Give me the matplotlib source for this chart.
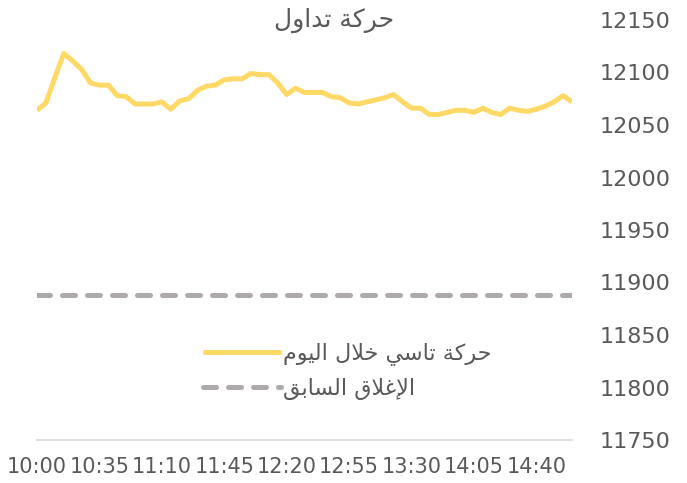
import matplotlib
matplotlib.use('Agg')
import matplotlib.pyplot as plt

# data (5-minute steps, 10:00 .. 15:00)
times = ['10:00', '10:05', '10:10', '10:15', '10:20', '10:25', '10:30', '10:35', '10:40', '10:45',
         '10:50', '10:55', '11:00', '11:05', '11:10', '11:15', '11:20', '11:25', '11:30', '11:35',
         '11:40', '11:45', '11:50', '11:55', '12:00', '12:05', '12:10', '12:15', '12:20', '12:25',
         '12:30', '12:35', '12:40', '12:45', '12:50', '12:55', '13:00', '13:05', '13:10', '13:15',
         '13:20', '13:25', '13:30', '13:35', '13:40', '13:45', '13:50', '13:55', '14:00', '14:05',
         '14:10', '14:15', '14:20', '14:25', '14:30', '14:35', '14:40', '14:45', '14:50', '14:55',
         '15:00']
tasi = [12064, 12071, 12095, 12118, 12111, 12103, 12090, 12088, 12088, 12078,
        12077, 12070, 12070, 12070, 12072, 12065, 12073, 12075, 12083, 12087,
        12088, 12093, 12094, 12094, 12099, 12098, 12098, 12090, 12079, 12085,
        12081, 12081, 12081, 12077, 12076, 12071, 12070, 12072, 12074, 12076,
        12079, 12072, 12066, 12066, 12060, 12060, 12062, 12064, 12064, 12062,
        12066, 12062, 12060, 12066, 12064, 12063, 12065, 12068, 12072, 12078,
        12072]
prev_close = 11888
tick_every = 7
y_ticks = [11750, 11800, 11850, 11900, 11950, 12000, 12050, 12100, 12150]

title = 'حركة تداول'
label_today = 'حركة تاسي خلال اليوم'
label_prev = 'الإغلاق السابق'

# matplotlib does no arabic shaping, so pick presentation forms by hand
FORMS = {
    '\u0627': ('\uFE8D', '\uFE8E', None, None),
    '\u0625': ('\uFE87', '\uFE88', None, None),
    '\u0628': ('\uFE8F', '\uFE90', '\uFE91', '\uFE92'),
    '\u0629': ('\uFE93', '\uFE94', None, None),
    '\u062A': ('\uFE95', '\uFE96', '\uFE97', '\uFE98'),
    '\u062D': ('\uFEA1', '\uFEA2', '\uFEA3', '\uFEA4'),
    '\u062E': ('\uFEA5', '\uFEA6', '\uFEA7', '\uFEA8'),
    '\u062F': ('\uFEA9', '\uFEAA', None, None),
    '\u0631': ('\uFEAD', '\uFEAE', None, None),
    '\u0633': ('\uFEB1', '\uFEB2', '\uFEB3', '\uFEB4'),
    '\u063A': ('\uFECD', '\uFECE', '\uFECF', '\uFED0'),
    '\u0642': ('\uFED5', '\uFED6', '\uFED7', '\uFED8'),
    '\u0643': ('\uFED9', '\uFEDA', '\uFEDB', '\uFEDC'),
    '\u0644': ('\uFEDD', '\uFEDE', '\uFEDF', '\uFEE0'),
    '\u0645': ('\uFEE1', '\uFEE2', '\uFEE3', '\uFEE4'),
    '\u0648': ('\uFEED', '\uFEEE', None, None),
    '\u064A': ('\uFEF1', '\uFEF2', '\uFEF3', '\uFEF4'),
}
LAM_ALEF = {'\u0627': ('\uFEFB', '\uFEFC'), '\u0625': ('\uFEF9', '\uFEFA')}


def dual(c):
    return c in FORMS and FORMS[c][2] is not None


def shape(text):
    out = []
    i = 0
    n = len(text)
    while i < n:
        c = text[i]
        if c not in FORMS:
            out.append(c)
            i += 1
            continue
        prev_joins = i > 0 and dual(text[i - 1])
        if c == '\u0644' and i + 1 < n and text[i + 1] in LAM_ALEF:
            iso, fin = LAM_ALEF[text[i + 1]]
            out.append(fin if prev_joins else iso)
            i += 2
            continue
        next_joins = dual(c) and i + 1 < n and text[i + 1] in FORMS
        iso, fin, ini, med = FORMS[c]
        if prev_joins and next_joins:
            out.append(med)
        elif prev_joins:
            out.append(fin)
        elif next_joins:
            out.append(ini)
        else:
            out.append(iso)
        i += 1
    return ''.join(reversed(out))


text_col = '#595959'
plt.rcParams['font.family'] = ['DejaVu Sans']

fig = plt.figure(figsize=(6.87, 4.83), dpi=100)
ax = fig.add_axes([37 / 687, 1 - 440 / 483, 535 / 687, 420 / 483])

x = list(range(len(times)))
ax.plot(x, tasi, color='#FFD966', lw=3.6, solid_joinstyle='round', solid_capstyle='butt',
        label=shape(label_today))
ax.plot(x, [prev_close] * len(times), color='#AEAAAA', lw=3.6, dashes=(2.6, 2.4),
        dash_capstyle='round', label=shape(label_prev))

ax.set_xlim(0, len(times) - 1)
ax.set_ylim(11750, 12150)
ax.set_xticks(x[::tick_every])
ax.set_xticklabels(times[::tick_every], fontsize=15, color=text_col)
ax.set_yticks(y_ticks)
ax.set_yticklabels([str(v) for v in y_ticks], fontsize=16, color=text_col)
ax.yaxis.tick_right()
ax.tick_params(axis='y', length=0, pad=20)
ax.tick_params(axis='x', length=0, pad=12)
for s in ['top', 'left', 'right']:
    ax.spines[s].set_visible(False)
ax.spines['bottom'].set_color('#D9D9D9')
ax.spines['bottom'].set_linewidth(1.2)

fig.text(334 / 687, 1 - 20 / 483, shape(title), ha='center', va='center', fontsize=18, color=text_col)

leg = ax.legend(loc='center left', bbox_to_anchor=(192 / 687, 1 - 371 / 483),
                bbox_transform=fig.transFigure, frameon=False, fontsize=16,
                handlelength=3.5, handletextpad=0.1, labelspacing=0.55, borderpad=0)
for t in leg.get_texts():
    t.set_color(text_col)

fig.savefig('out.png', dpi=100)
